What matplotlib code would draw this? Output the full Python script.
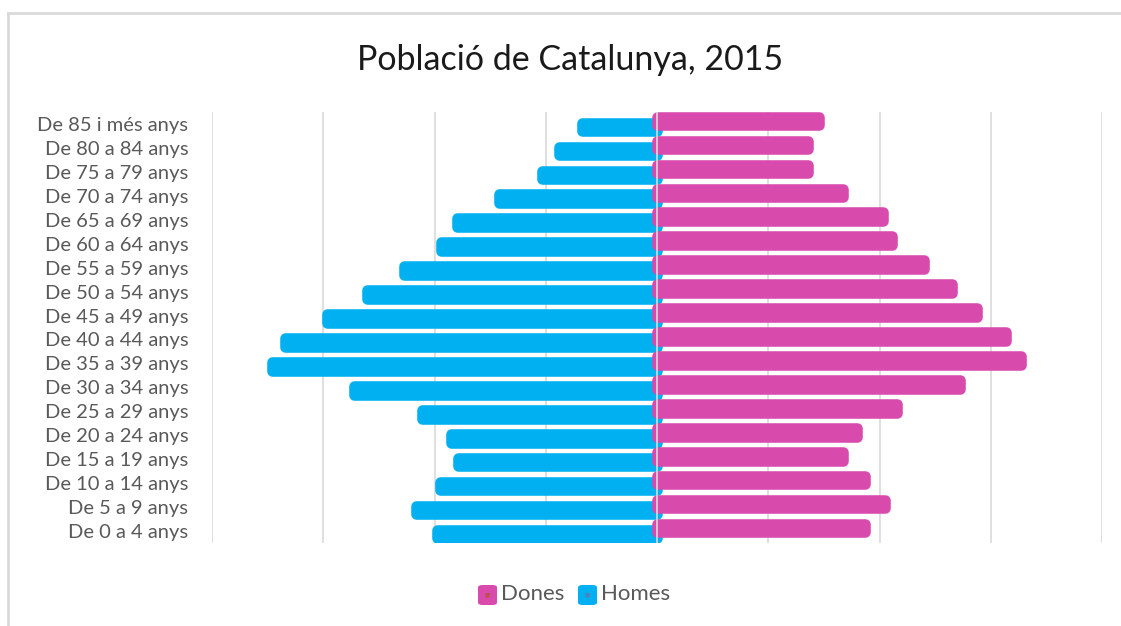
import matplotlib.pyplot as plt
from matplotlib.lines import Line2D
from matplotlib.patches import FancyBboxPatch

# Població per grups d'edat (milers), de 0-4 a 85+
grups = ['De 0 a 4 anys', 'De 5 a 9 anys', 'De 10 a 14 anys', 'De 15 a 19 anys',
         'De 20 a 24 anys', 'De 25 a 29 anys', 'De 30 a 34 anys', 'De 35 a 39 anys',
         'De 40 a 44 anys', 'De 45 a 49 anys', 'De 50 a 54 anys', 'De 55 a 59 anys',
         'De 60 a 64 anys', 'De 65 a 69 anys', 'De 70 a 74 anys', 'De 75 a 79 anys',
         'De 80 a 84 anys', 'De 85 i més anys']
homes = [198, 217, 195, 179, 185, 211, 272, 346, 334, 297, 261, 227, 194, 180, 142, 103, 88, 67]
dones = [187, 205, 187, 167, 180, 216, 272, 327, 314, 288, 265, 240, 211, 203, 167, 136, 136, 146]

ROSA = '#d84bad'
BLAU = '#00b0f0'
GRIS_TEXT = '#595959'

plt.rcParams['font.family'] = ['Lato', 'DejaVu Sans']

fig = plt.figure(figsize=(11.21, 6.26), dpi=100)
ax = fig.add_axes([212 / 1121, 1 - 543 / 626, 890 / 1121, 431 / 626])

y = list(range(len(grups)))
desp = 0.125
alt = 0.36
ax.barh([v - desp for v in y], [-h for h in homes], height=alt, color=BLAU,
        edgecolor=BLAU, linewidth=7.6, joinstyle='round', zorder=2)
ax.barh([v + desp for v in y], dones, height=alt, color=ROSA,
        edgecolor=ROSA, linewidth=7.6, joinstyle='round', zorder=3)

ax.set_xlim(-400, 400)
ax.set_ylim(-0.5, len(grups) - 0.5)
ax.set_xticks(range(-400, 401, 100))
ax.set_xticklabels([])
ax.tick_params(axis='x', length=0)
ax.tick_params(axis='y', length=0, pad=17, labelsize=14.5, labelcolor=GRIS_TEXT)
ax.set_yticks(y)
ax.set_yticklabels(grups)

for xg in range(-400, 401, 100):
    ax.axvline(xg, color='#d9d9d9', lw=1.2, zorder=4 if xg == 0 else 1)
for s in ax.spines.values():
    s.set_visible(False)

fig.text(570 / 1121, 1 - 60 / 626, 'Població de Catalunya, 2015', ha='center', va='center',
         fontsize=24.5, color='#1a1a1a')

# marc del gràfic
fig.add_artist(Line2D([8 / 1121, 1], [1 - 13 / 626, 1 - 13 / 626], color='#d9d9d9', lw=2))
fig.add_artist(Line2D([8 / 1121, 8 / 1121], [0, 1 - 13 / 626], color='#d9d9d9', lw=2))

# llegenda
for xs, col, txt, mk in [(478, ROSA, 'Dones', '#c0504d'), (578, BLAU, 'Homes', '#4f81bd')]:
    fig.add_artist(FancyBboxPatch(((xs) / 1121, 1 - 605 / 626), 19 / 1121, 20 / 626,
                                  boxstyle='round,pad=0,rounding_size=0.004',
                                  transform=fig.transFigure, fc=col, ec='none'))
    fig.text((xs + 9.5) / 1121, 1 - 595 / 626, '■', ha='center', va='center', fontsize=4,
             color=mk, family='DejaVu Sans')
    fig.text((xs + 23) / 1121, 1 - 594 / 626, txt, ha='left', va='center', fontsize=16,
             color=GRIS_TEXT)

fig.savefig('out.png', dpi=100)
